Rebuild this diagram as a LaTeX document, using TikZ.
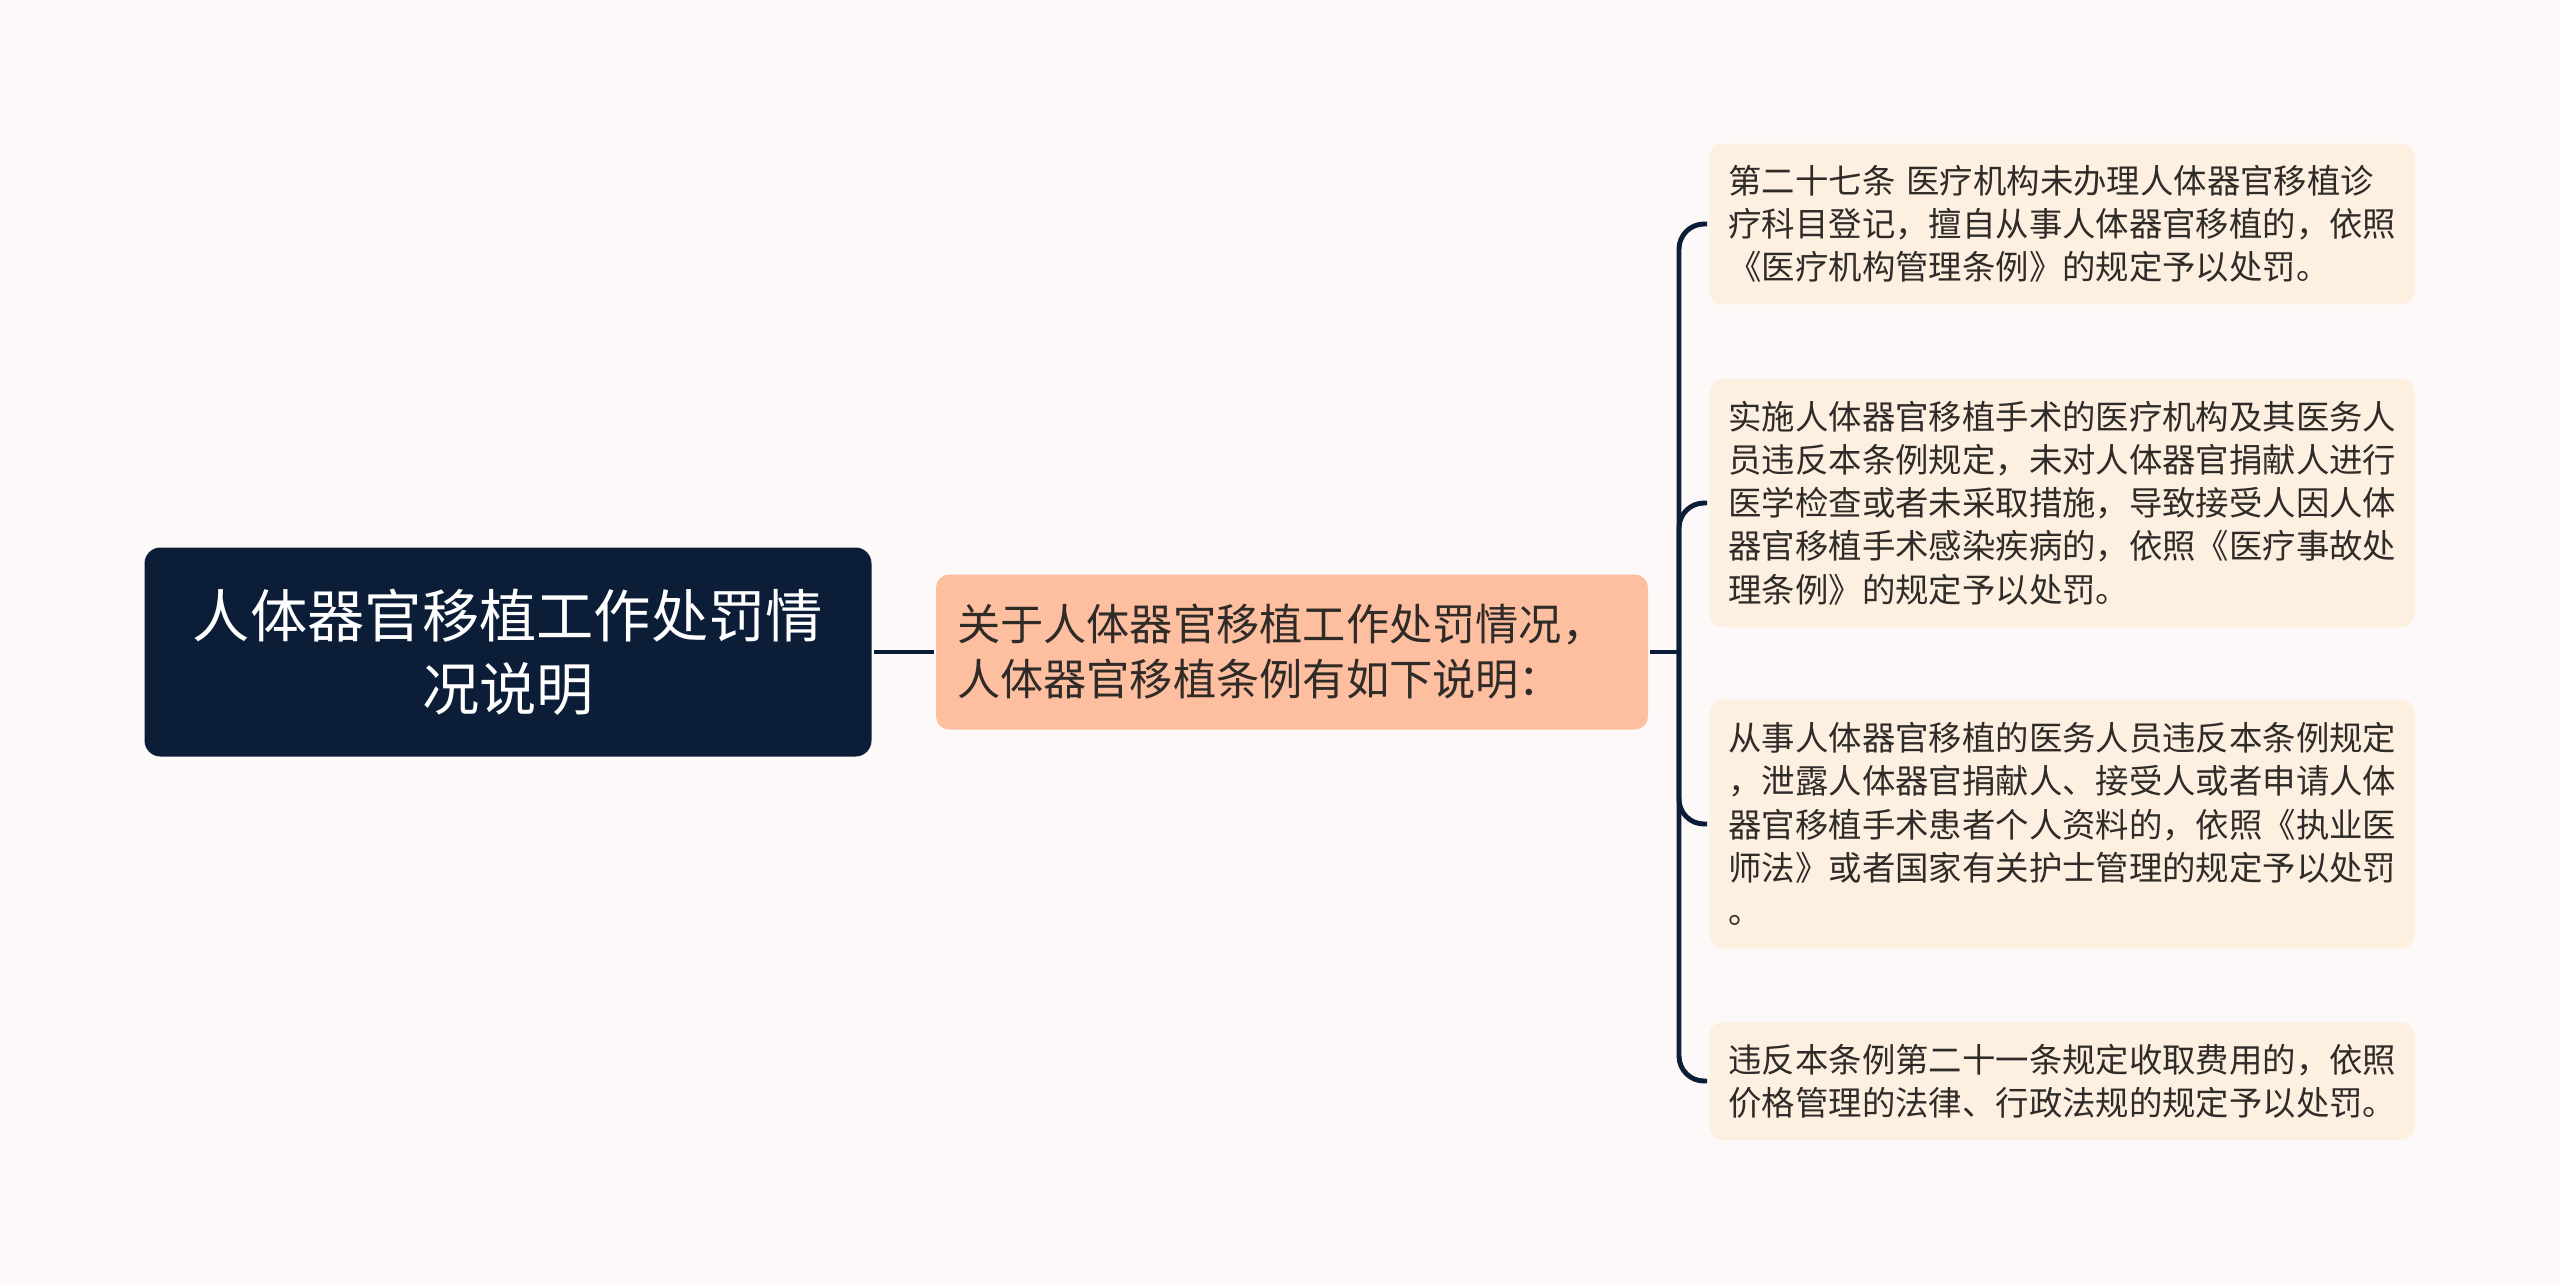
\documentclass[tikz,border=0pt]{standalone}
\usepackage{fontspec}
\setmainfont{Noto Sans CJK SC}
\definecolor{bgc}{HTML}{FCF9F8}
\definecolor{rootc}{HTML}{0C1E37}
\definecolor{midc}{HTML}{FDBF9F}
\definecolor{leafc}{HTML}{FDF0E1}
\definecolor{txtc}{HTML}{2F2B28}
\begin{document}
\begin{tikzpicture}[x=.1mm, y=-.1mm, line width=1.4pt,
  leaf/.style={fill=leafc, rounded corners=1.3mm, inner xsep=1.9mm, inner ysep=0pt, text width=66.7mm, align=left, text=txtc, font=\fontsize{9.5}{12.3}\selectfont}]
\useasboundingbox[fill=bgc] (0,0) rectangle (2560,1285);
\node[fill=rootc, text=white, rounded corners=1.6mm, minimum width=72.7mm, minimum height=20.9mm, align=center, font=\fontsize{16.3}{20.9}\selectfont] (root) at (508,652) {人体器官移植工作处罚情\\况说明};
\node[fill=midc, text=txtc, rounded corners=1.3mm, inner xsep=2.1mm, inner ysep=0pt, text width=67mm, minimum height=15.5mm, align=left, font=\fontsize{12.3}{15.7}\selectfont] (mid) at (1292,652) {关于人体器官移植工作处罚情况，\\人体器官移植条例有如下说明：};
\node[leaf, minimum height=16.1mm] (a) at (2062,224) {第二十七条 医疗机构未办理人体器官移植诊\\疗科目登记，擅自从事人体器官移植的，依照\\《医疗机构管理条例》的规定予以处罚。};
\node[leaf, minimum height=24.8mm] (b) at (2062,503) {实施人体器官移植手术的医疗机构及其医务人\\员违反本条例规定，未对人体器官捐献人进行\\医学检查或者未采取措施，导致接受人因人体\\器官移植手术感染疾病的，依照《医疗事故处\\理条例》的规定予以处罚。};
\node[leaf, minimum height=24.9mm] (c) at (2062,824) {从事人体器官移植的医务人员违反本条例规定\\，泄露人体器官捐献人、接受人或者申请人体\\器官移植手术患者个人资料的，依照《执业医\\师法》或者国家有关护士管理的规定予以处罚\\。};
\node[leaf, minimum height=11.8mm] (d) at (2062,1081) {违反本条例第二十一条规定收取费用的，依照\\价格管理的法律、行政法规的规定予以处罚。};
\coordinate (fork) at (1679,652);
\draw[rootc] (root.east) -- (mid.west);
\draw[rootc] (mid.east) -- (fork);
\foreach \n in {a,b,c,d}
  \draw[rootc, rounded corners=2.5mm] (fork) |- (\n.west);
\end{tikzpicture}
\end{document}
